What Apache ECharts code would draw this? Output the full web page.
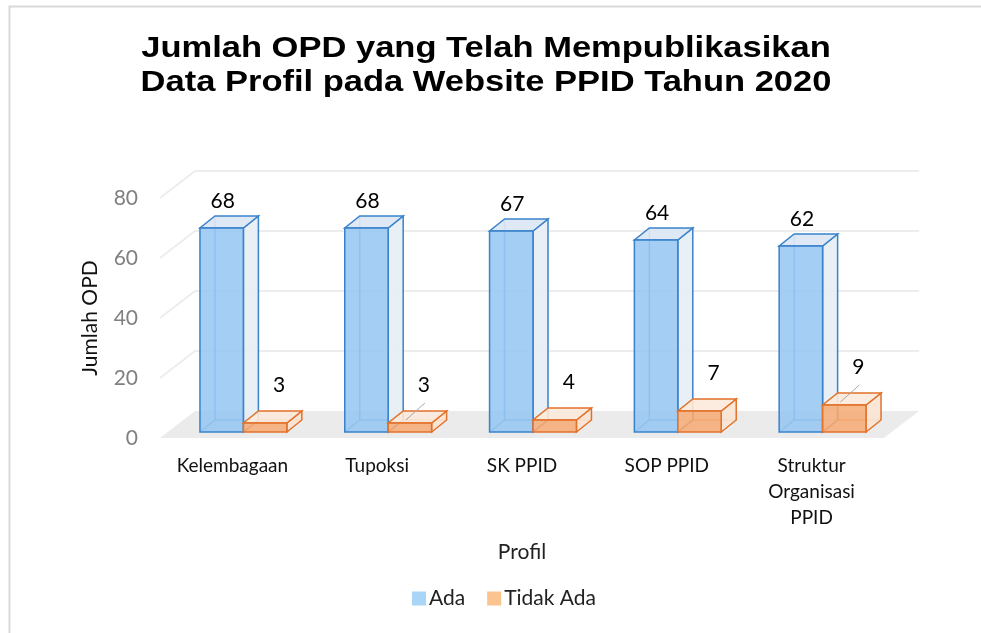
<!DOCTYPE html>
<html>
<head>
<meta charset="utf-8">
<script src="https://cdn.jsdelivr.net/npm/echarts@6/dist/echarts.min.js"></script>
<style>
  html, body { margin: 0; padding: 0; background: #fff; }
  #chart { width: 981px; height: 633px; }
</style>
</head>
<body>
<div id="chart"></div>
<script>
const categories = ['Kelembagaan', 'Tupoksi', 'SK PPID', 'SOP PPID', 'Struktur\nOrganisasi\nPPID'];
const adaValues = [68, 68, 67, 64, 62];
const tidakAdaValues = [3, 3, 4, 7, 9];
const yTicks = [0, 20, 40, 60, 80];
// which "Tidak Ada" labels get a small leader line
const tidakAdaLeader = [false, true, false, false, true];

// 3D look: back wall offset and bar depth offset (pixels)
const WALL_DX = 35, WALL_DY = 27;
const FRONT_DX = 8, FRONT_DY = 6;
const BAR_DX = 15, BAR_DY = 12;
const FONT = 'Lato, "Noto Sans", sans-serif';

const blueStyle = {
  front: 'rgba(148,198,242,0.85)', side: 'rgba(230,237,244,0.9)', top: 'rgba(218,231,244,0.9)',
  stroke: '#3a82cc'
};
const orangeStyle = {
  front: 'rgba(246,170,116,0.85)', side: 'rgba(250,228,212,0.9)', top: 'rgba(251,234,220,0.9)',
  stroke: '#e2722a'
};

function wallItem(params, api) {
  const cs = params.coordSys;
  const v = api.value(1);
  const y = api.coord([0, v])[1];
  const x0 = cs.x, x1 = cs.x + cs.width;
  if (v === 0) {
    return {
      type: 'polygon',
      shape: { points: [[x0, y], [x1, y], [x1 + WALL_DX, y - WALL_DY], [x0 + WALL_DX, y - WALL_DY]] },
      style: { fill: '#ebebeb', stroke: null }
    };
  }
  return {
    type: 'polyline',
    shape: { points: [[x0, y], [x0 + WALL_DX, y - WALL_DY], [x1 + WALL_DX, y - WALL_DY]] },
    style: { stroke: '#ededed', lineWidth: 2, fill: null }
  };
}

function boxRenderer(st, slot, leaders) {
  return function (params, api) {
    const idx = api.value(0);
    const val = api.value(1);
    const base = api.coord([idx, 0]);
    const topPt = api.coord([idx, val]);
    const band = api.size([1, 0])[0];
    const w = band * 0.3;
    const x0 = base[0] + FRONT_DX + 3 + (slot - 1) * w;
    const yb = base[1] - FRONT_DY;
    const yt = topPt[1] - FRONT_DY;
    const x1 = x0 + w;
    const line = { stroke: st.stroke, lineWidth: 1.5 };
    const children = [
      { type: 'polyline', shape: { points: [[x0, yb], [x0 + BAR_DX, yb - BAR_DY], [x1 + BAR_DX, yb - BAR_DY]] },
        style: Object.assign({ fill: null, opacity: 0.7 }, line) },
      { type: 'line', shape: { x1: x0 + BAR_DX, y1: yb - BAR_DY, x2: x0 + BAR_DX, y2: yt - BAR_DY },
        style: Object.assign({ opacity: 0.7 }, line) },
      { type: 'polygon', shape: { points: [[x1, yt], [x1, yb], [x1 + BAR_DX, yb - BAR_DY], [x1 + BAR_DX, yt - BAR_DY]] },
        style: Object.assign({ fill: st.side }, line) },
      { type: 'polygon', shape: { points: [[x0, yt], [x1, yt], [x1 + BAR_DX, yt - BAR_DY], [x0 + BAR_DX, yt - BAR_DY]] },
        style: Object.assign({ fill: st.top }, line) },
      { type: 'rect', shape: { x: x0, y: yt, width: w, height: yb - yt },
        style: Object.assign({ fill: st.front }, line) }
    ];
    const lx = slot === 0 ? x0 + w / 2 + 1 : x0 + w / 2 + 14;
    const ly = slot === 0 ? yt - 27 : yt - 38;
    children.push({
      type: 'text', x: lx, y: ly,
      style: { text: String(val), font: '21px ' + FONT, fill: '#000', align: 'center', verticalAlign: 'middle' }
    });
    if (leaders && leaders[idx]) {
      children.push({ type: 'line', shape: { x1: lx + 1, y1: ly + 18, x2: lx - 18, y2: ly + 35 },
        style: { stroke: '#a6a6a6', lineWidth: 1 } });
    }
    return { type: 'group', children: children };
  };
}

const chart = echarts.init(document.getElementById('chart'));
const option = {
  animation: false,
  graphic: [
    { type: 'rect', shape: { x: 9.5, y: 6.5, width: 1000, height: 700 },
      style: { fill: null, stroke: '#d9d9d9', lineWidth: 2 } },
    { type: 'text', x: 486, y: 49, scaleX: 1.15,
      style: { text: 'Jumlah OPD yang Telah Mempublikasikan', font: 'bold 30px "Liberation Sans", Arial, sans-serif',
        fill: '#000', align: 'center', verticalAlign: 'middle' } },
    { type: 'text', x: 486, y: 83, scaleX: 1.15,
      style: { text: 'Data Profil pada Website PPID Tahun 2020', font: 'bold 30px "Liberation Sans", Arial, sans-serif',
        fill: '#000', align: 'center', verticalAlign: 'middle' } }
  ],
  legend: {
    data: ['Ada', 'Tidak Ada'],
    bottom: 19,
    left: 407,
    icon: 'rect',
    itemWidth: 14,
    itemHeight: 14,
    itemGap: 22,
    textStyle: { fontFamily: FONT, fontSize: 21, color: '#222', padding: [0, 0, 0, -2] }
  },
  grid: { left: 160, right: 97, top: 198, bottom: 195, containLabel: false },
  xAxis: {
    type: 'category',
    data: categories,
    name: 'Profil',
    nameLocation: 'middle',
    nameGap: 104,
    nameTextStyle: { fontFamily: FONT, fontSize: 21, color: '#222' },
    axisLine: { show: false },
    axisTick: { show: false },
    axisLabel: { margin: 15, fontFamily: FONT, fontSize: 19, color: '#111', lineHeight: 26, interval: 0 }
  },
  yAxis: {
    type: 'value',
    min: 0, max: 80, interval: 20,
    name: 'Jumlah OPD',
    nameLocation: 'middle',
    nameGap: 59,
    nameTextStyle: { fontFamily: FONT, fontSize: 21, color: '#111' },
    axisLine: { show: false },
    axisTick: { show: false },
    splitLine: { show: false },
    axisLabel: { margin: 22, fontFamily: FONT, fontSize: 21, color: '#808080' }
  },
  series: [
    {
      type: 'custom', name: 'wall', silent: true, z: 1,
      renderItem: wallItem,
      data: yTicks.map(function (v) { return [0, v]; })
    },
    {
      type: 'custom', name: 'Ada', z: 2,
      itemStyle: { color: '#a9d6f7' },
      renderItem: boxRenderer(blueStyle, 0, null),
      data: adaValues.map(function (v, i) { return [i, v]; })
    },
    {
      type: 'custom', name: 'Tidak Ada', z: 3,
      itemStyle: { color: '#fbc38e' },
      renderItem: boxRenderer(orangeStyle, 1, tidakAdaLeader),
      data: tidakAdaValues.map(function (v, i) { return [i, v]; })
    }
  ]
};
chart.setOption(option);
</script>
</body>
</html>
